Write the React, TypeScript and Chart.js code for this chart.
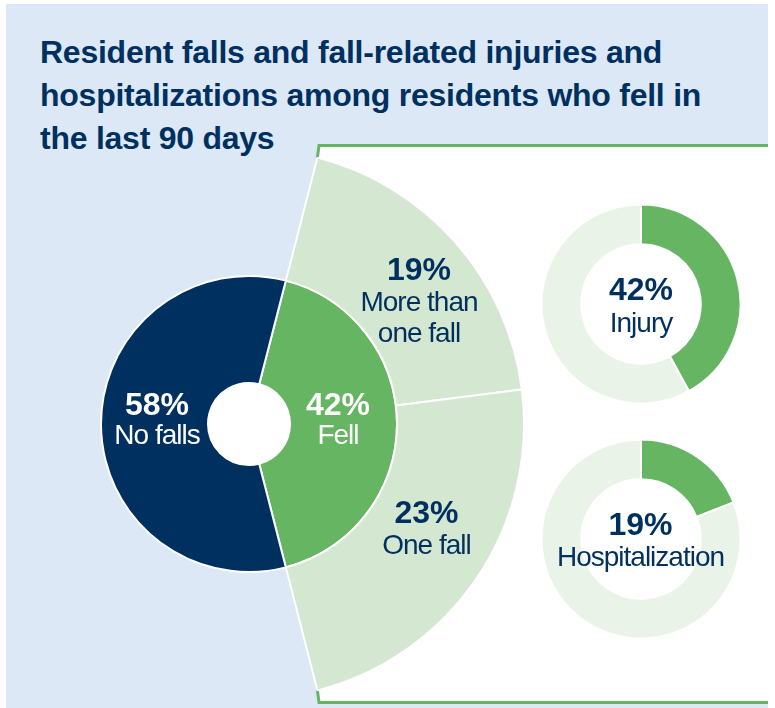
import React, { useEffect, useRef } from "react";
import { Chart, registerables } from "chart.js";

Chart.register(...registerables);

// ---- data ----
const fallCategories = ["Fell", "No falls"];
const fallShares = [42, 58];
const frequencyCategories = ["More than one fall", "One fall"];
const frequencyShares = [19, 23];
const outcomeCategories = ["Injury", "Hospitalization"];
const outcomeShares = [42, 19];

// ---- styles ----
const NAVY = "#00305f";
const GREEN = "#66b562";
const LIGHT = "#d4e7d0";
const PALE = "#e9f3e7";
const BLUE_BG = "#dce8f5";
const FONT = '"Liberation Sans", Arial, Helvetica, sans-serif';

// main chart geometry
const CX = 249;
const CY = 424;
const R_OUT = 275;
const R_MID = 148;
const R_IN = 41;
const MAIN_SIZE = 560;

// small charts geometry
const SMALL_R = 99.5;
const SMALL_SIZE = 206;

const pct = (v: number) => `${v}%`;

const holeFill = {
  id: "holeFill",
  beforeDatasetsDraw(chart: any) {
    const meta = chart.getDatasetMeta(chart.data.datasets.length - 1);
    const arc = meta.data[0];
    if (!arc) return;
    const { x, y, innerRadius } = arc.getProps(["x", "y", "innerRadius"], true);
    const ctx = chart.ctx;
    ctx.save();
    ctx.beginPath();
    ctx.arc(x, y, innerRadius + 1, 0, Math.PI * 2);
    ctx.fillStyle = "#ffffff";
    ctx.fill();
    ctx.restore();
  },
};

function MainDoughnut() {
  const ref = useRef<HTMLCanvasElement>(null);
  useEffect(() => {
    const fellTotal = frequencyShares.reduce((a, b) => a + b, 0);
    const sweep = (fellTotal / 100) * 360;
    const start = 90 - sweep / 2;
    const chart = new Chart(ref.current!, {
      type: "doughnut",
      data: {
        labels: fallCategories,
        datasets: [
          {
            label: "Frequency",
            data: frequencyShares,
            backgroundColor: [LIGHT, LIGHT],
            borderColor: "#ffffff",
            borderWidth: 2,
            rotation: start,
            circumference: sweep,
            weight: R_OUT - R_MID,
            hoverOffset: 0,
          } as any,
          {
            label: "Falls",
            data: fallShares,
            backgroundColor: [GREEN, NAVY],
            borderColor: "#ffffff",
            borderWidth: 2,
            rotation: start,
            circumference: 360,
            weight: R_MID - R_IN,
            hoverOffset: 0,
          } as any,
        ],
      },
      options: {
        responsive: false,
        animation: false,
        events: [],
        radius: R_OUT,
        cutout: `${(R_IN / R_OUT) * 100}%`,
        layout: { padding: 0 },
        plugins: { legend: { display: false }, tooltip: { enabled: false } },
      } as any,
      plugins: [holeFill],
    });
    return () => chart.destroy();
  }, []);
  return (
    <canvas
      ref={ref}
      width={MAIN_SIZE}
      height={MAIN_SIZE}
      style={{
        position: "absolute",
        left: CX - MAIN_SIZE / 2,
        top: CY - MAIN_SIZE / 2,
        width: MAIN_SIZE,
        height: MAIN_SIZE,
      }}
    />
  );
}

function SmallDoughnut({ value, label, cx, cy }: { value: number; label: string; cx: number; cy: number }) {
  const ref = useRef<HTMLCanvasElement>(null);
  useEffect(() => {
    const chart = new Chart(ref.current!, {
      type: "doughnut",
      data: {
        labels: [label, "Other"],
        datasets: [
          {
            data: [value, 100 - value],
            backgroundColor: [GREEN, PALE],
            borderColor: "#ffffff",
            borderWidth: 2,
            hoverOffset: 0,
          },
        ],
      },
      options: {
        responsive: false,
        animation: false,
        events: [],
        radius: SMALL_R,
        cutout: "60%",
        layout: { padding: 0 },
        plugins: { legend: { display: false }, tooltip: { enabled: false } },
      } as any,
    });
    return () => chart.destroy();
  }, [value, label]);
  return (
    <canvas
      ref={ref}
      width={SMALL_SIZE}
      height={SMALL_SIZE}
      style={{
        position: "absolute",
        left: cx - SMALL_SIZE / 2,
        top: cy - SMALL_SIZE / 2,
        width: SMALL_SIZE,
        height: SMALL_SIZE,
      }}
    />
  );
}

type Line = { text: string; bold?: boolean; baseline: number };

function Label({ cx, lines, color }: { cx: number; lines: Line[]; color: string }) {
  return (
    <>
      {lines.map((l, i) => {
        const size = l.bold ? 32 : 28;
        return (
          <div
            key={i}
            style={{
              position: "absolute",
              left: cx - 150,
              width: 300,
              top: l.baseline - 0.8465 * size,
              fontFamily: FONT,
              fontSize: size,
              lineHeight: `${size}px`,
              fontWeight: l.bold ? 700 : 400,
              letterSpacing: l.bold ? "0px" : "-1px",
              textAlign: "center",
              color,
              whiteSpace: "nowrap",
            }}
          >
            {l.text}
          </div>
        );
      })}
    </>
  );
}

function splitLabel(s: string): string[] {
  if (s === "More than one fall") return ["More than", "one fall"];
  return [s];
}

export default function App() {
  const a = (14.4 * Math.PI) / 180;
  const sinA = Math.sin(a);
  const cosA = Math.cos(a);
  const topY = 145.5;
  const botY = 702.5;
  const panelRight = 768;
  const cornerTop = { x: CX + R_OUT * sinA, y: CY - R_OUT * cosA };
  const cornerBot = { x: CX + R_OUT * sinA, y: CY + R_OUT * cosA };
  const panelLeftTop = 319;
  const panelLeftBot = 319;

  const freqLines = splitLabel(frequencyCategories[0]);

  return (
    <div style={{ position: "absolute", left: 0, top: 0, width: 775, height: 708, overflow: "hidden", background: "#ffffff" }}>
      <div style={{ position: "absolute", left: 6, top: 4, width: 762, height: 720, background: BLUE_BG }} />
      <svg width={775} height={708} style={{ position: "absolute", left: 0, top: 0 }}>
        <polygon
          points={`${panelLeftTop},${topY} ${panelRight},${topY} ${panelRight},${botY} ${panelLeftBot},${botY} ${cornerBot.x},${cornerBot.y} ${CX},${CY} ${cornerTop.x},${cornerTop.y}`}
          fill="#ffffff"
        />
        <polyline
          points={`${cornerTop.x},${cornerTop.y} ${panelLeftTop},${topY} ${panelRight},${topY}`}
          fill="none"
          stroke={GREEN}
          strokeWidth={3}
        />
        <polyline
          points={`${cornerBot.x},${cornerBot.y} ${panelLeftBot},${botY} ${panelRight},${botY}`}
          fill="none"
          stroke={GREEN}
          strokeWidth={3}
        />
      </svg>
      <div
        style={{
          position: "absolute",
          left: 40,
          top: 30.5,
          width: 700,
          fontFamily: FONT,
          fontWeight: 700,
          fontSize: 32,
          lineHeight: "43.3px",
          letterSpacing: "-0.25px",
          color: NAVY,
        }}
      >
        Resident falls and fall-related injuries and
        <br />
        hospitalizations among residents who fell in
        <br />
        the last 90 days
      </div>

      <MainDoughnut />
      <SmallDoughnut value={outcomeShares[0]} label={outcomeCategories[0]} cx={641} cy={304} />
      <SmallDoughnut value={outcomeShares[1]} label={outcomeCategories[1]} cx={641} cy={539} />

      <Label
        cx={157}
        color="#ffffff"
        lines={[
          { text: pct(fallShares[1]), bold: true, baseline: 415 },
          { text: fallCategories[1], baseline: 445 },
        ]}
      />
      <Label
        cx={338}
        color="#ffffff"
        lines={[
          { text: pct(fallShares[0]), bold: true, baseline: 415 },
          { text: fallCategories[0], baseline: 445 },
        ]}
      />
      <Label
        cx={419}
        color={NAVY}
        lines={[
          { text: pct(frequencyShares[0]), bold: true, baseline: 280 },
          { text: freqLines[0], baseline: 311.7 },
          { text: freqLines[1], baseline: 343 },
        ]}
      />
      <Label
        cx={426.5}
        color={NAVY}
        lines={[
          { text: pct(frequencyShares[1]), bold: true, baseline: 523.3 },
          { text: frequencyCategories[1], baseline: 555 },
        ]}
      />
      <Label
        cx={641}
        color={NAVY}
        lines={[
          { text: pct(outcomeShares[0]), bold: true, baseline: 300 },
          { text: outcomeCategories[0], baseline: 332.7 },
        ]}
      />
      <Label
        cx={640.5}
        color={NAVY}
        lines={[
          { text: pct(outcomeShares[1]), bold: true, baseline: 535 },
          { text: outcomeCategories[1], baseline: 566.7 },
        ]}
      />
    </div>
  );
}
